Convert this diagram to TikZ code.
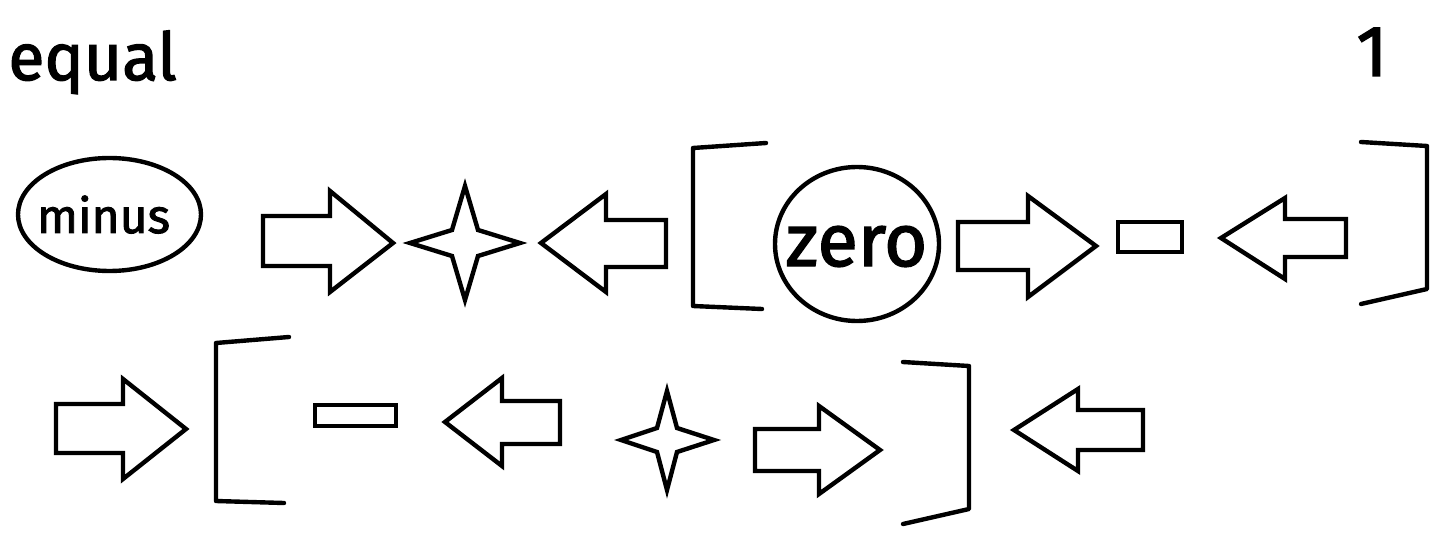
\documentclass[tikz,border=0pt]{standalone}
\usepackage{fontspec}
\setmainfont{Fira Sans}[FakeBold=2]
\usetikzlibrary{shapes.geometric}
\begin{document}
\begin{tikzpicture}[x={(0.5pt,0)},y={(0,-0.5pt)},
  shp/.style={draw=black,line width=2.2pt,line join=miter},
  brk/.style={draw=black,line width=2.2pt,line cap=round,line join=round},
  txt/.style={inner sep=0pt,anchor=base,text=black}]
\useasboundingbox (0,0) rectangle (1450,534);
\fill[white] (0,0) rectangle (1450,534);
% titles
\node[txt,anchor=base west] (equal) at (8,80) {\fontsize{33pt}{36pt}\selectfont equal};
\node[txt] (one) at (1372,76) {\fontsize{36pt}{40pt}\selectfont 1};
% minus ellipse
\node[shp,ellipse,inner sep=0pt,minimum width=91.5pt,minimum height=56.5pt] (minusE) at (109.5,214.5) {};
\node[txt] (minusT) at (103.5,233) {\fontsize{24pt}{28pt}\selectfont minus};
% row 1
\draw[shp] (263,216)--(330,216)--(330,191)--(393,243)--(330,292)--(330,266)--(263,266)--cycle;
\draw[shp] (465,186)--(478,230)--(520,243)--(478,256)--(465,300)--(452,256)--(410,243)--(452,230)--cycle;
\draw[shp] (541,243)--(606,194)--(606,220)--(666,220)--(666,267)--(606,267)--(606,292)--cycle;
\draw[brk] (766,143)--(693,148)--(693,306)--(762,309);
\node[shp,ellipse,inner sep=0pt,minimum width=82pt,minimum height=77pt] (zeroC) at (857,244) {};
\node[txt] (zeroT) at (856.5,266) {\fontsize{37pt}{40pt}\selectfont zero};
\draw[shp] (958,222)--(1028,222)--(1028,196)--(1096,246)--(1028,297)--(1028,270)--(958,270)--cycle;
\draw[shp] (1118,222) rectangle (1182,252);
\draw[shp] (1221,238)--(1285,198)--(1285,219)--(1346,219)--(1346,257)--(1285,257)--(1285,279)--cycle;
\draw[brk] (1361,142)--(1427,146)--(1427,289)--(1361,304);
% row 2
\draw[shp] (56,404)--(123,404)--(123,379)--(186,429)--(123,479)--(123,453)--(56,453)--cycle;
\draw[brk] (289,337)--(216,343)--(216,501)--(284,503);
\draw[shp] (315,405) rectangle (396,426);
\draw[shp] (445,422)--(502,378)--(502,401)--(560,401)--(560,444)--(502,444)--(502,466)--cycle;
\draw[shp] (667,391)--(677,428)--(714,440)--(677,452)--(667,490)--(657,452)--(621,440)--(657,428)--cycle;
\draw[shp] (755,429)--(819,429)--(819,406)--(880,450)--(819,494)--(819,471)--(755,471)--cycle;
\draw[brk] (903,362)--(969,366)--(969,509)--(903,524);
\draw[shp] (1014,430)--(1078,389)--(1078,410)--(1143,410)--(1143,450)--(1078,450)--(1078,471)--cycle;
\end{tikzpicture}
\end{document}
